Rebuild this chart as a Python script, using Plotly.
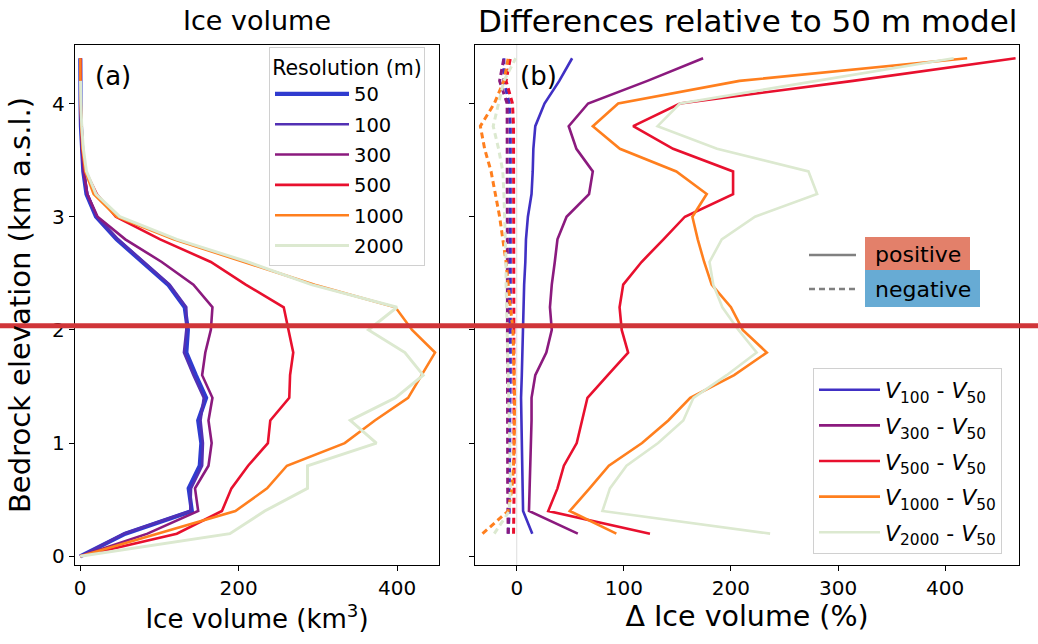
import plotly.graph_objects as go

# ---------------- data ----------------
elev_left = [0.0, 0.2, 0.4, 0.6, 0.8, 1.0, 1.2, 1.4, 1.6, 1.8, 2.0, 2.2,
             2.4, 2.6, 2.8, 3.0, 3.2, 3.4, 3.6, 3.8, 4.0, 4.2, 4.4]
resolutions = ["50", "100", "300", "500", "1000", "2000"]
vol_50 = [0, 57, 141, 137, 151, 153, 149, 159, 146, 134, 136, 132, 111, 78, 46, 20, 8, 4, 2, 1, 0.5, 0.3, 0.2]
vol_100 = [0, 55, 139, 140, 154, 155, 152, 156, 143, 131, 134, 134, 113, 80, 48, 21, 9, 4.5, 2, 1, 0.5, 0.3, 0.2]
vol_300 = [0, 85, 149, 145, 162, 166, 162, 167, 154, 158, 165, 167, 143, 103, 57, 22, 9, 4.5, 2.2, 1, 0.5, 0.3, 0.2]
vol_500 = [0, 122, 179, 191, 212, 237, 240, 264, 265, 269, 263, 257, 209, 165, 101, 45, 21, 7, 3, 1.5, 0.7, 0.4, 0.2]
vol_1000 = [0, 99, 196, 236, 261, 334, 372, 414, 431, 448, 419, 398, 296, 208, 118, 46, 17, 6.5, 3, 1.5, 0.7, 0.3, 0.2]
vol_2000 = [0, 189, 233, 287, 287, 374, 341, 398, 433, 410, 364, 400, 292, 212, 122, 50, 20, 8, 4, 2, 1, 0.5, None]

elev_right = [0.2, 0.4, 0.6, 0.8, 1.0, 1.2, 1.4, 1.6, 1.8, 2.0, 2.2,
              2.4, 2.6, 2.8, 3.0, 3.2, 3.4, 3.6, 3.8, 4.0, 4.2, 4.4]
diff_labels = ["100", "300", "500", "1000", "2000"]
pos_100 = [14.5, 5.9, 5.5, 5, 4.5, 4, 4, 4.7, 5.3, 5.9, 5.9, 6.9, 8, 8.6, 10.4, 13.8, 14.9, 15.5, 17.3, 25.9, 39.7, 51.7]
pos_300 = [57, 11.4, 12, 12.7, 13.8, 13.8, 13.8, 17.3, 27.6, 32.7, 31, 32.7, 35.5, 38, 46.5, 67.5, 71, 55.7, 48.5, 66.6, 122, 174]
pos_500 = [124.4, 29.4, 38, 44, 56, 61, 66, 85, 104, 98, 96, 99.4, 116.5, 137, 157, 202, 202, 146, 108.7, 152.4, 314, 465.8]
pos_1000 = [93, 49.5, 68, 86, 117, 141.5, 162, 203, 233.5, 211, 200, 182, 175, 169, 164, 177.4, 149, 96.3, 71, 94.7, 208, 420.6]
pos_2000 = [236.6, 80, 87, 102.5, 132, 155.5, 165, 196, 224, 207, 192, 183.5, 180, 191.4, 222.5, 280.5, 272.4, 187, 131.5, 152.4, 280, 408]
neg_100 = [-8, -7, -7, -6.5, -6.5, -6.5, -6, -6, -6, -6, -6, -6, -6, -6, -6, -6, -6, -6, -6, -7, -12, -12]
neg_300 = [-8, -8.5, -8.5, -8.5, -8.5, -8.5, -8.5, -8.5, -8.5, -8.5, -9, -9, -9, -9, -9, -9, -9, -9, -9, -9, -16, -12]
neg_500 = [-3, -2.5, -2.5, -2.5, -2.5, -2.5, -2.5, -2.5, -2.5, -2.5, -3, -3, -3, -3, -3, -3, -3, -3, -3, -4, -10, -6]
neg_1000 = [-32, -8, -4.5, -3, -2.5, -2, -2, -2.5, -3, -3.5, -6, -8, -10, -13, -16, -20, -24, -30, -34, -21, -12, -8]
neg_2000 = [-21, -7, -6, -6, -6.5, -7, -7.5, -8, -8.5, -9.5, -10, -10, -10, -10.5, -11, -12, -13, -17, -22, -17, -12, -1]

y_ticks = [0, 1, 2, 3, 4]
x_ticks_left = [0, 200, 400]
x_ticks_right = [0, 100, 200, 300, 400]

# ---------------- styles ----------------
colors_left = ["#2f3bcf", "#5230b4", "#8b1a7e", "#e8102e", "#ff7f1e", "#dce9d0"]
widths_left = [4.2, 2.6, 2.6, 2.6, 2.6, 3.0]
colors_right = ["#4030c4", "#8b1a7e", "#e8102e", "#ff7f1e", "#dce9d0"]
FONT = "DejaVu Sans"

L, R, T, B = 75, 19, 45, 79
W, H = 1038, 644
PW, PH = W - L - R, H - T - B


def px(xpix):
    return (xpix - L) / PW


def py(ypix):
    return (H - B - ypix) / PH


fig = go.Figure()

vols = [vol_50, vol_100, vol_300, vol_500, vol_1000, vol_2000]
for name, vals, c, w in zip(resolutions, vols, colors_left, widths_left):
    fig.add_trace(go.Scatter(x=vals, y=elev_left, mode="lines", name=name,
                             legendgroup="res" + name,
                             line=dict(color=c, width=w), xaxis="x", yaxis="y",
                             legend="legend", connectgaps=False))

negs = [neg_100, neg_300, neg_500, neg_1000, neg_2000]
for lab, vals, c in zip(diff_labels, negs, colors_right):
    fig.add_trace(go.Scatter(x=vals, y=elev_right, mode="lines", showlegend=False,
                             line=dict(color=c, width=3, dash="6px,4px"),
                             xaxis="x2", yaxis="y2"))

poss = [pos_100, pos_300, pos_500, pos_1000, pos_2000]
for lab, vals, c in zip(diff_labels, poss, colors_right):
    fig.add_trace(go.Scatter(x=vals, y=elev_right, mode="lines",
                             name=f"<i>V</i><sub>{lab}</sub> - <i>V</i><sub>50</sub>",
                             legendgroup="diff" + lab,
                             line=dict(color=c, width=2.6), xaxis="x2", yaxis="y2",
                             legend="legend2"))

axis_common = dict(showline=True, mirror=True, linecolor="black", linewidth=1.3,
                   ticks="outside", ticklen=5, tickwidth=1.2, tickcolor="black",
                   showgrid=False, zeroline=False,
                   tickfont=dict(family=FONT, size=20, color="black"))

fig.update_layout(
    width=W, height=H,
    margin=dict(l=L, r=R, t=T, b=B),
    paper_bgcolor="white", plot_bgcolor="white",
    font=dict(family=FONT, color="black"),
    xaxis=dict(domain=[0, px(439)], range=[-6.5, 453], tickvals=x_ticks_left,
               title=dict(text="Ice volume (km<sup>3</sup>)", font=dict(size=26), standoff=6),
               **axis_common),
    yaxis=dict(domain=[0, 1], range=[-0.077, 4.517], tickvals=y_ticks,
               title=dict(text="Bedrock elevation (km a.s.l.)", font=dict(size=29), standoff=12),
               **axis_common),
    xaxis2=dict(domain=[px(475), 1], range=[-39, 469], tickvals=x_ticks_right,
                anchor="y2",
                title=dict(text="Δ Ice volume (%)", font=dict(size=28.5), standoff=4),
                **axis_common),
    yaxis2=dict(domain=[0, 1], range=[-0.077, 4.517], tickvals=y_ticks, showticklabels=False,
                anchor="x2", **axis_common),
    legend=dict(x=px(269), y=py(47), xanchor="left", yanchor="top",
                bgcolor="rgba(255,255,255,0.8)", bordercolor="#d0d0d0", borderwidth=1,
                font=dict(family=FONT, size=19.5), itemwidth=74, tracegroupgap=2,
                title=dict(text="Resolution (m)", font=dict(family=FONT, size=20.5), side="top center")),
    legend2=dict(x=px(813), y=py(368), xanchor="left", yanchor="top",
                 bgcolor="rgba(255,255,255,0.8)", bordercolor="#d0d0d0", borderwidth=1,
                 font=dict(family=FONT, size=22), itemwidth=61, tracegroupgap=4),
    showlegend=True,
)

shapes = [
    dict(type="line", xref="x2", yref="paper", x0=0, x1=0, y0=0, y1=1,
         line=dict(color="#dddddd", width=1), layer="below"),
    dict(type="rect", xref="paper", yref="paper", x0=px(865), x1=px(970), y0=py(270), y1=py(237),
         fillcolor="#e3806a", line=dict(width=0)),
    dict(type="rect", xref="paper", yref="paper", x0=px(865), x1=px(980), y0=py(307), y1=py(270),
         fillcolor="#67abd4", line=dict(width=0)),
    dict(type="line", xref="paper", yref="paper", x0=px(809), x1=px(856), y0=py(255), y1=py(255),
         line=dict(color="#808080", width=2.5)),
    dict(type="line", xref="paper", yref="paper", x0=px(809), x1=px(856), y0=py(289), y1=py(289),
         line=dict(color="#808080", width=2.5, dash="6px,4px")),
    dict(type="line", xref="paper", yref="paper", x0=px(0), x1=px(W), y0=py(325.8), y1=py(325.8),
         line=dict(color="#d03539", width=5)),
]
fig.update_layout(shapes=shapes)

annotations = [
    dict(text="Ice volume", x=px(257), y=py(21), xref="paper", yref="paper",
         showarrow=False, font=dict(family=FONT, size=27), xanchor="center", yanchor="middle"),
    dict(text="Differences relative to 50 m model", x=px(747), y=py(21), xref="paper", yref="paper",
         showarrow=False, font=dict(family=FONT, size=31), xanchor="center", yanchor="middle"),
    dict(text="(a)", x=px(93), y=py(76), xref="paper", yref="paper", showarrow=False,
         font=dict(family=FONT, size=26), xanchor="left", yanchor="middle"),
    dict(text="(b)", x=px(518), y=py(76), xref="paper", yref="paper", showarrow=False,
         font=dict(family=FONT, size=26), xanchor="left", yanchor="middle"),
    dict(text="positive", x=px(917.5), y=py(254), xref="paper", yref="paper", showarrow=False,
         font=dict(family=FONT, size=22), xanchor="center", yanchor="middle"),
    dict(text="negative", x=px(922.5), y=py(289), xref="paper", yref="paper", showarrow=False,
         font=dict(family=FONT, size=22), xanchor="center", yanchor="middle"),
]
fig.update_layout(annotations=annotations)

fig.write_html("out.html")
